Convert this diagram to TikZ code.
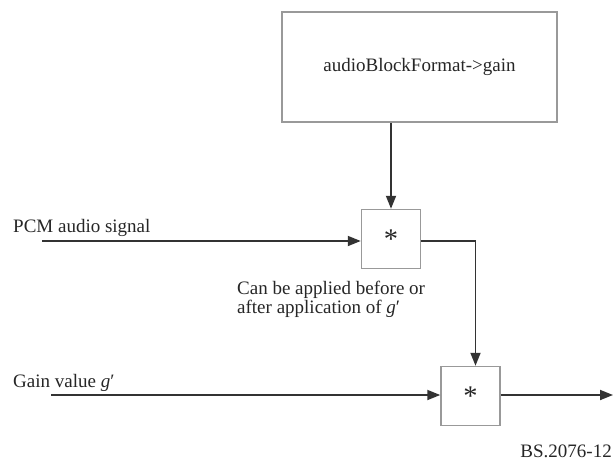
\documentclass[tikz,border=0pt]{standalone}
\usepackage{fontspec}
\setmainfont{Liberation Serif}
\usepackage{tikz}
\usetikzlibrary{positioning, arrows.meta}

\begin{document}
\begin{tikzpicture}[x=1pt, y=-1pt, font=\fontsize{19}{17}\selectfont, text=black!85,
        blockbox/.style={rectangle, draw=black!40, line width=1.5pt, fill=white, inner sep=0pt},
        sig/.style={draw=black!80, line width=1.8pt, -{Triangle[length=13pt, width=10pt]}}]
            \useasboundingbox (0, 0) rectangle (613, 461);

            \node[blockbox, minimum width=275pt, minimum height=110pt] (gain) at (419.5, 67) {audioBlockFormat->gain};
            \node[blockbox, minimum size=59pt] (mul1) at (391, 239) {\raisebox{-0.45em}{\scalebox{1.5}{*}}};
            \node[blockbox, minimum size=59pt] (mul2) at (470.5, 396) {\raisebox{-0.45em}{\scalebox{1.5}{*}}};

            \coordinate (pcmin) at (42, 241);
            \coordinate (gin) at (51, 395);
            \coordinate (out) at (613, 395);

            \node[anchor=base west, inner sep=0pt] (pcm) at (13, 232) {PCM audio signal};
            \node[anchor=base west, inner sep=0pt] (gv) at (13, 387) {Gain value \textit{g}′};
            \node[anchor=base west, inner sep=0pt, align=left] (note) at (237, 313) {Can be applied before or\\after application of \textit{g}′};
            \node[anchor=base east, inner sep=0pt] (fig) at (612, 457) {BS.2076-12};

            \draw[sig] (gain.south -| mul1) -- (mul1);
            \draw[sig] (pcmin) -- (pcmin -| mul1.west);
            \draw[sig] (mul1.east |- pcmin) -| ([xshift=5pt]mul2.north);
            \draw[sig] (gin) -- (gin -| mul2.west);
            \draw[sig] (gin -| mul2.east) -- (out);
        \end{tikzpicture}
\end{document}
